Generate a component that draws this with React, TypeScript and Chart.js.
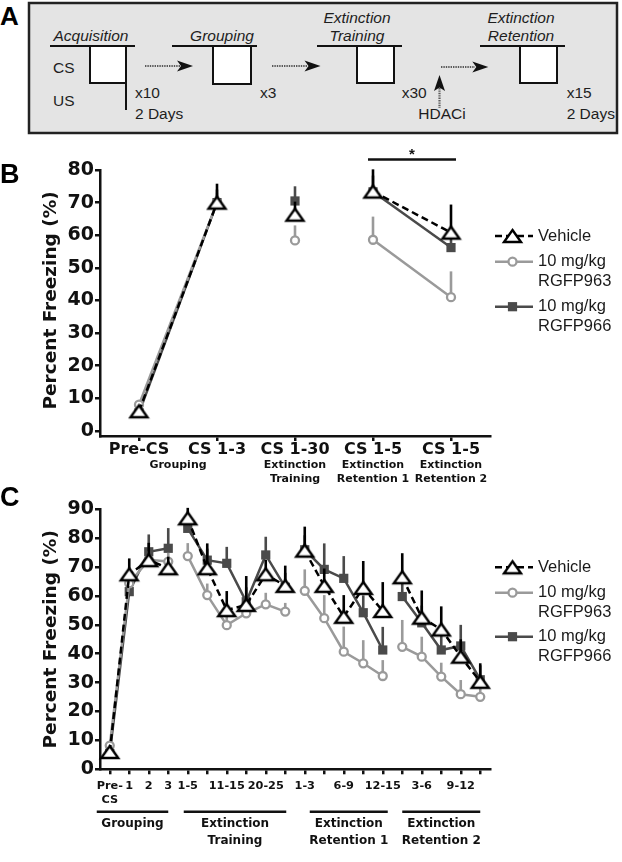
import React, { useEffect, useRef } from "react";
import { Chart, registerables } from "chart.js";

Chart.register(...registerables);

// ---------- Panel B data ----------
const bCategories = ["Pre-CS", "CS 1-3", "CS 1-30", "CS 1-5", "CS 1-5"];
const bPhaseNames = [["Grouping"], ["Extinction", "Training"], ["Extinction", "Retention 1"], ["Extinction", "Retention 2"]];
const bPhaseStart = [0, 2, 3, 4];
const bPhaseEnd = [1, 2, 3, 4];
const bBreaksAfter = [1, 2];
const bVehicle = [6, 70, 66.3, 73.4, 60.8];
const bVehicleErr = [1.5, 5.8, 4, 6.8, 8.6];
const bRGFP963 = [8, 70, 58.4, 58.6, 41];
const bRGFP963Err = [1, 3, 4.6, 7.1, 7.9];
const bRGFP966 = [5.5, 70, 70.5, 73.3, 56.2];
const bRGFP966Err = [1, 4, 4.5, 5, 6];
const bTicks = [0, 10, 20, 30, 40, 50, 60, 70, 80];
const bSignificance = [3, 4];

// ---------- Panel C data ----------
const cCategories = [["Pre-", "CS"], "1", "2", "3", "1-5", "", "11-15", "", "20-25", "", "1-3", "", "6-9", "", "12-15", "", "3-6", "", "9-12", ""];
const cPhaseNames = [["Grouping"], ["Extinction", "Training"], ["Extinction", "Retention 1"], ["Extinction", "Retention 2"]];
const cPhaseStart = [0, 4, 10, 15];
const cPhaseEnd = [3, 9, 14, 19];
const cBreaksAfter = [3, 9, 14];
const cVehicle = [6, 67.5, 72.4, 69.6, 86.9, 69.6, 55.1, 56.9, 67.5, 63.5, 75.7, 63.5, 52.8, 62.8, 54.8, 66.5, 52.5, 48.4, 39, 30.3];
const cVehicleErr = [1.5, 5.5, 6, 4, 3.6, 8.6, 6.6, 10, 5, 7, 8.3, 6, 7.5, 9.3, 10, 8.3, 9.4, 8, 6, 6.4];
const cRGFP963 = [8.2, 64.4, 72.5, 71.9, 73.8, 60.3, 49.9, 54, 57.1, 54.6, 61.8, 52.3, 40.7, 36.7, 32.3, 42.4, 39, 32.1, 26, 25.1];
const cRGFP963Err = [1, 3, 3, 3, 4.5, 4, 3, 4, 4, 3, 7.4, 8, 8.7, 8, 5.5, 9.3, 6.9, 4.8, 4.9, 3];
const cRGFP966 = [5.5, 61.5, 75.3, 76.5, 83.4, 72.4, 71.3, 58, 74.2, 63, 76, 69.2, 66.1, 54.2, 41.3, 59.8, 50.7, 41.3, 42.7, 31];
const cRGFP966Err = [1, 4, 6, 7, 4, 4, 5.7, 5, 6.3, 5, 5, 9, 7.7, 6, 8, 6, 6, 6, 7.3, 5];
const cTicks = [0, 10, 20, 30, 40, 50, 60, 70, 80, 90];

const seriesLegend = [["Vehicle"], ["10 mg/kg", "RGFP963"], ["10 mg/kg", "RGFP966"]];
const yTitle = "Percent Freezing (%)";

// ---------- styles ----------
const BOLD = "'DejaVu Sans', sans-serif";
const REG = "'Liberation Sans', Arial, sans-serif";
const COL = ["#000000", "#9a9a9a", "#4a4a4a"];
const AXIS = "#111111";

function makeTriangle(): HTMLCanvasElement {
  const w = 17, h = 12, lw = 2.4;
  const c = document.createElement("canvas");
  c.width = 23;
  c.height = 18;
  const g = c.getContext("2d")!;
  const cx = c.width / 2;
  const top = (c.height - h) / 2;
  g.beginPath();
  g.moveTo(cx, top);
  g.lineTo(cx + w / 2, top + h);
  g.lineTo(cx - w / 2, top + h);
  g.closePath();
  g.fillStyle = "#fff";
  g.fill();
  g.lineWidth = lw;
  g.lineJoin = "miter";
  g.strokeStyle = "#000";
  g.stroke();
  return c;
}

function datasets(series: number[][], errs: number[][], breaks: number[], tri: HTMLCanvasElement) {
  const seg = (col: string) => (ctx: any) => (breaks.includes(ctx.p0DataIndex) ? "rgba(0,0,0,0)" : col);
  return [
    {
      label: seriesLegend[0].join(" "),
      data: series[0],
      errors: errs[0],
      errorColor: COL[0],
      borderColor: COL[0],
      borderWidth: 2.5,
      borderDash: [7, 4],
      pointStyle: tri,
      pointRadius: 9,
      segment: { borderColor: seg(COL[0]) },
      clip: false,
    },
    {
      label: seriesLegend[1].join(" "),
      data: series[1],
      errors: errs[1],
      errorColor: COL[1],
      borderColor: COL[1],
      borderWidth: 2.5,
      pointStyle: "circle",
      pointRadius: 4,
      pointBorderWidth: 2.3,
      pointBackgroundColor: "#ffffff",
      pointBorderColor: COL[1],
      segment: { borderColor: seg(COL[1]) },
      clip: false,
    },
    {
      label: seriesLegend[2].join(" "),
      data: series[2],
      errors: errs[2],
      errorColor: COL[2],
      borderColor: COL[2],
      borderWidth: 2.5,
      pointStyle: "rect",
      pointRadius: 6.5,
      pointBorderWidth: 0,
      pointBackgroundColor: COL[2],
      pointBorderColor: COL[2],
      segment: { borderColor: seg(COL[2]) },
      clip: false,
    },
  ];
}

const errorBars = {
  id: "errorBars",
  beforeDatasetDraw(chart: any, args: any) {
    const ds = chart.data.datasets[args.index];
    if (!ds.errors) return;
    const y = chart.scales.y;
    const ctx = chart.ctx;
    ctx.save();
    ctx.strokeStyle = ds.errorColor;
    ctx.lineWidth = 2.6;
    args.meta.data.forEach((el: any, j: number) => {
      const v = ds.data[j];
      const e = ds.errors[j];
      if (v == null || !e) return;
      ctx.beginPath();
      ctx.moveTo(el.x, el.y);
      ctx.lineTo(el.x, y.getPixelForValue(v + e));
      ctx.stroke();
    });
    ctx.restore();
  },
};

function drawLegend(ctx: CanvasRenderingContext2D, tri: HTMLCanvasElement, rowsY: number[]) {
  const x0 = 495, x1 = 533, mx = 512.5, tx = 538;
  ctx.save();
  rowsY.forEach((y, i) => {
    ctx.beginPath();
    ctx.lineWidth = 2.5;
    ctx.strokeStyle = COL[i];
    ctx.setLineDash(i === 0 ? [7, 4] : []);
    ctx.moveTo(x0, y);
    ctx.lineTo(x1, y);
    ctx.stroke();
    ctx.setLineDash([]);
    if (i === 0) {
      ctx.drawImage(tri, mx - tri.width / 2, y - tri.height / 2);
    } else if (i === 1) {
      ctx.beginPath();
      ctx.arc(mx, y, 4, 0, Math.PI * 2);
      ctx.fillStyle = "#fff";
      ctx.fill();
      ctx.lineWidth = 2.3;
      ctx.strokeStyle = COL[1];
      ctx.stroke();
    } else {
      ctx.fillStyle = COL[2];
      ctx.fillRect(mx - 4.6, y - 4.6, 9.2, 9.2);
    }
    ctx.fillStyle = "#1a1a1a";
    ctx.font = `16.5px ${REG}`;
    ctx.textAlign = "left";
    ctx.textBaseline = "middle";
    seriesLegend[i].forEach((t, k) => ctx.fillText(t, tx, y + k * 19.5));
  });
  ctx.restore();
}

function drawYTitle(chart: any) {
  const { ctx, chartArea } = chart;
  const y0 = chart.scales.y.getPixelForValue(0);
  ctx.save();
  ctx.translate(51, (chartArea.top + y0) / 2);
  ctx.rotate(-Math.PI / 2);
  ctx.fillStyle = "#111";
  ctx.font = `bold 18.5px ${BOLD}`;
  ctx.textAlign = "center";
  ctx.textBaseline = "middle";
  ctx.fillText(yTitle, 0, 0);
  ctx.restore();
}

function drawLetter(ctx: CanvasRenderingContext2D, letter: string, x: number, y: number) {
  ctx.save();
  ctx.fillStyle = "#000";
  ctx.font = `bold 27px ${REG}`;
  ctx.textAlign = "left";
  ctx.textBaseline = "alphabetic";
  ctx.fillText(letter, x, y);
  ctx.restore();
}

function makeDecorB(tri: HTMLCanvasElement) {
  return {
    id: "decorB",
    afterDraw(chart: any) {
      const { ctx } = chart;
      const x = chart.scales.x;
      drawLetter(ctx, "B", 0, 43);
      drawYTitle(chart);
      ctx.save();
      ctx.fillStyle = "#111";
      ctx.font = `bold 11px ${BOLD}`;
      ctx.textAlign = "center";
      ctx.textBaseline = "middle";
      bPhaseNames.forEach((lines, i) => {
        const cx = (x.getPixelForValue(bPhaseStart[i]) + x.getPixelForValue(bPhaseEnd[i])) / 2;
        lines.forEach((t, k) => ctx.fillText(t, cx, 325 + k * 14.5));
      });
      // significance bar
      const sx0 = x.getPixelForValue(bSignificance[0]) - 5;
      const sx1 = x.getPixelForValue(bSignificance[1]) + 5;
      ctx.strokeStyle = "#111";
      ctx.lineWidth = 2.5;
      ctx.beginPath();
      ctx.moveTo(sx0, 19.5);
      ctx.lineTo(sx1, 19.5);
      ctx.stroke();
      ctx.font = `bold 15px ${REG}`;
      ctx.textBaseline = "alphabetic";
      ctx.fillText("*", (sx0 + sx1) / 2, 19);
      ctx.restore();
      drawLegend(ctx, tri, [96, 121.7, 166.7]);
    },
  };
}

function makeDecorC(tri: HTMLCanvasElement) {
  const padL = [-13, -4, 5, 0];
  const padR = [0, 1, 5, 0];
  return {
    id: "decorC",
    afterDraw(chart: any) {
      const { ctx } = chart;
      const x = chart.scales.x;
      drawLetter(ctx, "C", 0, 26);
      drawYTitle(chart);
      ctx.save();
      ctx.fillStyle = "#111";
      ctx.strokeStyle = "#111";
      ctx.lineWidth = 2.5;
      ctx.font = `bold 12px ${BOLD}`;
      ctx.textAlign = "center";
      ctx.textBaseline = "middle";
      cPhaseNames.forEach((lines, i) => {
        const a = x.getPixelForValue(cPhaseStart[i]) + padL[i];
        const b = x.getPixelForValue(cPhaseEnd[i]) + padR[i];
        ctx.beginPath();
        ctx.moveTo(a, 331.7);
        ctx.lineTo(b, 331.7);
        ctx.stroke();
        lines.forEach((t, k) => ctx.fillText(t, (a + b) / 2, 343.5 + k * 17.3));
      });
      ctx.restore();
      drawLegend(ctx, tri, [87.3, 112.7, 156.7]);
    },
  };
}

function axisScales(labelsFont: any, yMin: number, yMax: number, ticks: number[], xHeight: number, xPad: number) {
  return {
    x: {
      type: "category",
      offset: true,
      grid: { display: true, drawOnChartArea: false, drawTicks: true, tickLength: 5, color: AXIS, lineWidth: 2.5 },
      border: { display: true, color: AXIS, width: 2.5 },
      ticks: { color: "#111", font: labelsFont, maxRotation: 0, minRotation: 0, autoSkip: false, padding: xPad },
      afterFit: (s: any) => {
        s.height = xHeight;
      },
    },
    y: {
      min: yMin,
      max: yMax,
      grid: { display: true, drawOnChartArea: false, drawTicks: true, tickLength: 5, color: AXIS, lineWidth: 2.5 },
      border: { display: true, color: AXIS, width: 2.5 },
      ticks: { color: "#111", font: { family: BOLD, weight: "bold", size: 19 }, padding: 1 },
      afterBuildTicks: (s: any) => {
        s.ticks = ticks.map((v) => ({ value: v }));
      },
      afterFit: (s: any) => {
        s.width = 100;
      },
    },
  };
}

export default function App() {
  const bRef = useRef<HTMLCanvasElement>(null);
  const cRef = useRef<HTMLCanvasElement>(null);

  useEffect(() => {
    const tri = makeTriangle();
    const common = {
      animation: false,
      responsive: false,
      events: [],
      plugins: { legend: { display: false }, tooltip: { enabled: false } },
    };
    const b = new Chart(bRef.current!, {
      type: "line",
      data: {
        labels: bCategories,
        datasets: datasets([bVehicle, bRGFP963, bRGFP966], [bVehicleErr, bRGFP963Err, bRGFP966Err], bBreaksAfter, tri) as any,
      },
      options: {
        ...common,
        layout: { padding: { top: 30, right: 132, left: 0, bottom: 0 } },
        scales: axisScales({ family: BOLD, weight: "bold", size: 16 }, -1.6, 80, bTicks, 54, -1) as any,
      } as any,
      plugins: [errorBars, makeDecorB(tri)],
    });
    const c = new Chart(cRef.current!, {
      type: "line",
      data: {
        labels: cCategories as any,
        datasets: datasets([cVehicle, cRGFP963, cRGFP966], [cVehicleErr, cRGFP963Err, cRGFP966Err], cBreaksAfter, tri) as any,
      },
      options: {
        ...common,
        layout: { padding: { top: 29.3, right: 132, left: 0, bottom: 0 } },
        scales: axisScales({ family: BOLD, weight: "bold", size: 11.3, lineHeight: 1.25 }, 0, 90, cTicks, 92.7, 5) as any,
      } as any,
      plugins: [errorBars, makeDecorC(tri)],
    });
    return () => {
      b.destroy();
      c.destroy();
    };
  }, []);

  const t = { fontFamily: "'Liberation Sans', Arial, sans-serif", fontSize: 15.5, fill: "#1e1e1e" } as const;
  const it = { ...t, fontStyle: "italic" } as const;
  const dot = { stroke: "#5a5a5a", strokeWidth: 2.2, strokeDasharray: "1.4 1" } as const;

  return (
    <div style={{ position: "absolute", left: 0, top: 0, width: 622, height: 862, background: "#fff", overflow: "hidden" }}>
      <svg width={622} height={140} style={{ position: "absolute", left: 0, top: 0 }}>
        <text x={0} y={25} style={{ fontFamily: "'Liberation Sans', Arial, sans-serif", fontSize: 26, fontWeight: "bold" }} fill="#000">A</text>
        <rect x={29} y={3} width={588} height={130} fill="#e4e4e4" stroke="#222" strokeWidth={2.5} />
        {/* Acquisition */}
        <text x={91} y={41} textAnchor="middle" style={it}>Acquisition</text>
        <line x1={50} y1={46} x2={135} y2={46} stroke="#111" strokeWidth={2} />
        <rect x={90} y={46} width={36} height={37} fill="#fff" stroke="#111" strokeWidth={2} />
        <line x1={126} y1={46} x2={126} y2={110} stroke="#111" strokeWidth={2} />
        <text x={53} y={72.5} style={t}>CS</text>
        <text x={53} y={106} style={t}>US</text>
        <text x={135} y={97.5} style={t}>x10</text>
        <text x={135} y={118.5} style={t}>2 Days</text>
        <line x1={145} y1={66} x2={180} y2={66} style={dot} />
        <polygon points="193,66 177,60.5 181,66 177,71.5" fill="#111" />
        {/* Grouping */}
        <text x={222} y={41} textAnchor="middle" style={it}>Grouping</text>
        <line x1={172} y1={46} x2={257} y2={46} stroke="#111" strokeWidth={2} />
        <rect x={213} y={46} width={38} height={38} fill="#fff" stroke="#111" strokeWidth={2} />
        <text x={260} y={97.5} style={t}>x3</text>
        <line x1={272} y1={66} x2={307} y2={66} style={dot} />
        <polygon points="320.5,66 304.5,60.5 308.5,66 304.5,71.5" fill="#111" />
        {/* Extinction Training */}
        <text x={357} y={22.5} textAnchor="middle" style={it}>Extinction</text>
        <text x={357} y={41} textAnchor="middle" style={it}>Training</text>
        <line x1={317} y1={46} x2={402} y2={46} stroke="#111" strokeWidth={2} />
        <rect x={357} y={46} width={37} height={37} fill="#fff" stroke="#111" strokeWidth={2} />
        <text x={401.7} y={97.5} style={t}>x30</text>
        <line x1={439.5} y1={88} x2={439.5} y2={108} style={dot} />
        <polygon points="439.5,75 434,91 439.5,87.5 445,91" fill="#111" />
        <text x={442} y={119} textAnchor="middle" style={t}>HDACi</text>
        <line x1={441} y1={67} x2={475} y2={67} style={dot} />
        <polygon points="488.3,67 472.3,61.5 476.3,67 472.3,72.5" fill="#111" />
        {/* Extinction Retention */}
        <text x={521} y={22.5} textAnchor="middle" style={it}>Extinction</text>
        <text x={521} y={41} textAnchor="middle" style={it}>Retention</text>
        <line x1={480} y1={46} x2={565} y2={46} stroke="#111" strokeWidth={2} />
        <rect x={520} y={46} width={37} height={37} fill="#fff" stroke="#111" strokeWidth={2} />
        <text x={566.7} y={97.5} style={t}>x15</text>
        <text x={566.7} y={119} style={t}>2 Days</text>
      </svg>
      <canvas ref={bRef} width={622} height={350} style={{ position: "absolute", left: 0, top: 140, width: 622, height: 350 }} />
      <canvas ref={cRef} width={622} height={382} style={{ position: "absolute", left: 0, top: 480, width: 622, height: 382 }} />
    </div>
  );
}
